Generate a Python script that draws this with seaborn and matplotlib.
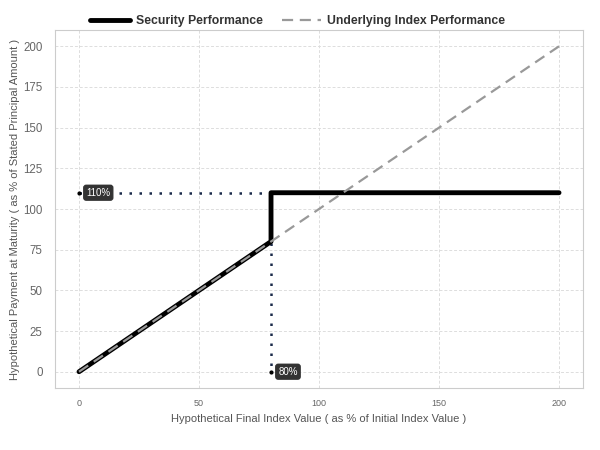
import matplotlib
matplotlib.use("Agg")
import matplotlib.pyplot as plt
import seaborn as sns
import pandas as pd

# Data
security_x = [0, 80, 80, 200]
security_y = [0, 80, 110, 110]
index_x = [0, 200]
index_y = [0, 200]
cap_level = 110
barrier_level = 80
x_ticks = [0, 50, 100, 150, 200]
y_ticks = [0, 25, 50, 75, 100, 125, 150, 175, 200]

sns.set_theme(style="whitegrid")
plt.rcParams['font.family'] = ['Liberation Sans', 'DejaVu Sans']

fig = plt.figure(figsize=(6, 4.5), dpi=100)
ax = fig.add_axes([0.0917, 0.1378, 0.88, 0.7955])

sec_df = pd.DataFrame({"x": security_x, "y": security_y})
idx_df = pd.DataFrame({"x": index_x, "y": index_y})

# reference dotted lines
ax.plot([0, barrier_level], [cap_level, cap_level], color="#1a2a4a", lw=1.8,
        linestyle=(0, (1, 3)), zorder=2)
ax.plot([barrier_level, barrier_level], [cap_level, 0], color="#1a2a4a", lw=1.8,
        linestyle=(0, (1, 3)), zorder=2)
ax.plot([0], [cap_level], marker="o", ms=2, color="black", zorder=3)
ax.plot([barrier_level], [0], marker="o", ms=2, color="black", zorder=3)

sns.lineplot(data=sec_df, x="x", y="y", sort=False, estimator=None, ax=ax,
             color="black", lw=3.5, label="Security Performance", zorder=4)
sns.lineplot(data=idx_df, x="x", y="y", sort=False, estimator=None, ax=ax,
             color="#999999", lw=1.6, linestyle=(0, (5, 3)),
             label="Underlying Index Performance", zorder=5)

bbox = dict(boxstyle="round,pad=0.25", fc="#333333", ec="#333333")
ax.text(3, cap_level, "110%", color="white", fontsize=7, va="center", ha="left",
        bbox=bbox, zorder=6)
ax.text(barrier_level + 3, 0, "80%", color="white", fontsize=7, va="center", ha="left",
        bbox=bbox, zorder=6)

ax.set_xlim(-10, 210)
ax.set_ylim(-10, 210)
ax.set_xticks(x_ticks)
ax.set_yticks(y_ticks)
ax.tick_params(axis="x", labelsize=6.5, colors="#666666", pad=2)
ax.tick_params(axis="y", labelsize=8.3, colors="#666666", pad=3)
ax.grid(True, color="#dddddd", linestyle=(0, (3, 2)), lw=0.7)
for s in ax.spines.values():
    s.set_color("#cccccc")
    s.set_linewidth(0.8)

ax.set_xlabel("Hypothetical Final Index Value ( as % of Initial Index Value )",
              fontsize=8, color="#555555", labelpad=4)
ax.set_ylabel("Hypothetical Payment at Maturity ( as % of Stated Principal Amount )",
              fontsize=8, color="#555555", labelpad=2)

leg = ax.legend(loc="lower center", bbox_to_anchor=(0.46, 0.99), ncol=2, frameon=False,
                fontsize=8.8, handlelength=3.2, columnspacing=1.6, handletextpad=0.5,
                borderaxespad=0.1)
for t in leg.get_texts():
    t.set_fontweight("bold")
    t.set_color("#333333")

fig.savefig("out.png", dpi=100)
